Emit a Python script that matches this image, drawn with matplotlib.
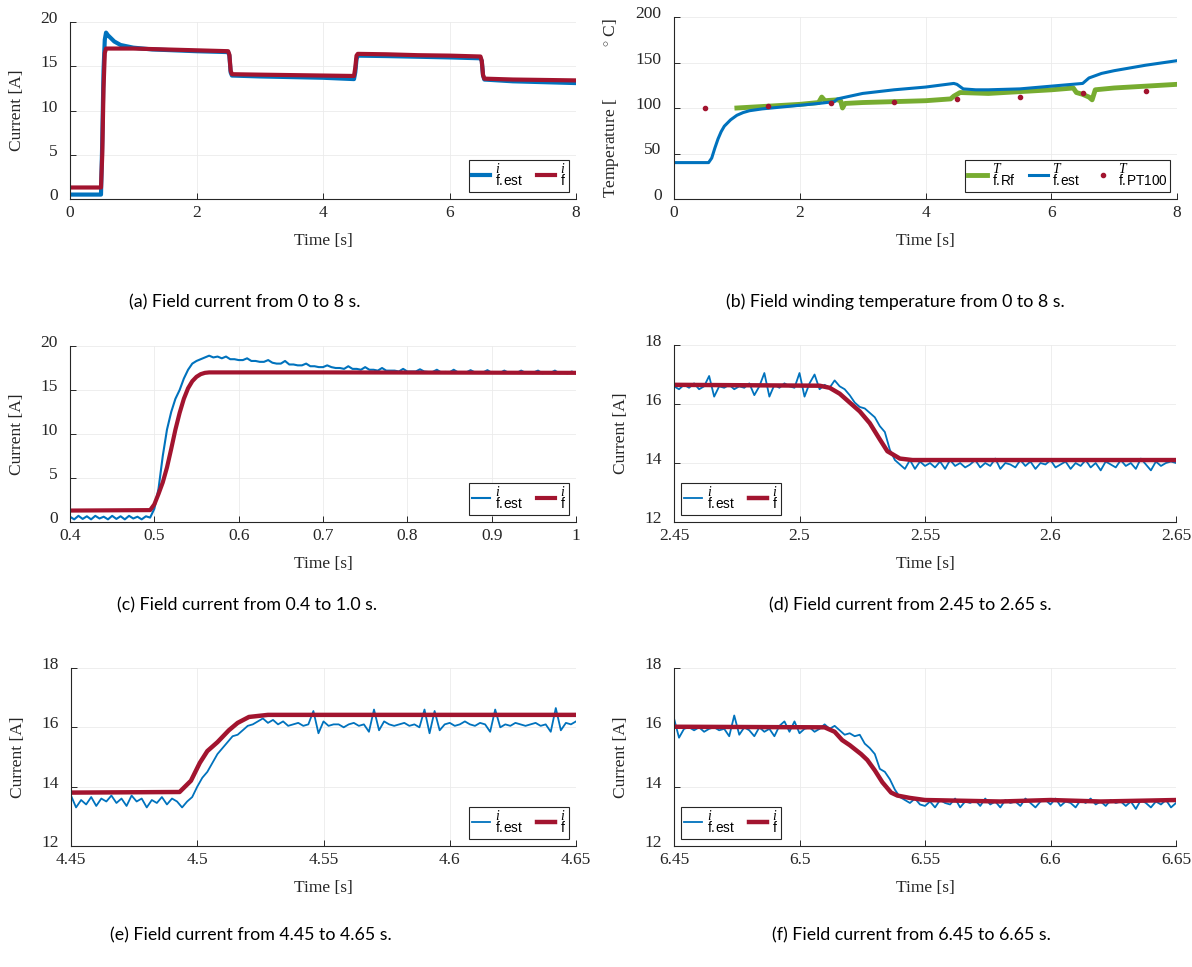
import numpy as np
import matplotlib
matplotlib.use('Agg')
import matplotlib.pyplot as plt
import matplotlib.transforms as mtransforms

# colours (MATLAB default palette)
BLUE = '#0072BD'
RED = '#A2142F'
GREEN = '#77AC30'
DARK = '#262626'

# ---------------- (a) field current 0..8 s ----------------
t_a_est = [0, 0.49, 0.51, 0.53, 0.55, 0.57, 0.6, 0.7, 0.8, 1.0, 1.3, 2.0, 2.5,
           2.52, 2.54, 2.56, 3.0, 4.0, 4.49, 4.51, 4.53, 4.55, 5.0, 6.0, 6.49,
           6.51, 6.53, 6.55, 7.0, 8.0]
i_a_est = [0.5, 0.5, 6.5, 14.5, 18.0, 18.8, 18.5, 17.8, 17.4, 17.1, 16.9, 16.7, 16.6,
           16.2, 14.3, 13.95, 13.85, 13.7, 13.55, 14.3, 15.8, 16.2, 16.15, 16.0, 15.9,
           15.6, 14.0, 13.5, 13.3, 13.1]
t_a_f = [0, 0.49, 0.51, 0.53, 0.55, 0.57, 1.0, 1.5, 2.0, 2.5, 2.52, 2.54, 2.56,
         3.0, 3.5, 4.0, 4.49, 4.51, 4.53, 4.55, 5.0, 5.5, 6.0, 6.49, 6.51, 6.53,
         6.55, 7.0, 7.5, 8.0]
i_a_f = [1.3, 1.3, 5.0, 12.5, 16.5, 17.0, 17.0, 16.9, 16.8, 16.7, 16.3, 14.5, 14.1,
         14.05, 14.0, 13.95, 13.9, 14.8, 16.2, 16.4, 16.35, 16.25, 16.2, 16.1, 15.6, 14.0,
         13.6, 13.5, 13.45, 13.4]

# ---------------- (b) temperature 0..8 s ----------------
t_b_est = [0, 0.55, 0.6, 0.65, 0.7, 0.75, 0.8, 0.9, 1.0, 1.1, 1.2, 1.4, 1.7, 2.0, 2.3,
           2.55, 2.6, 2.8, 3.0, 3.5, 4.0, 4.45, 4.5, 4.6, 4.8, 5.0, 5.5, 6.0, 6.5,
           6.6, 6.8, 7.0, 7.5, 8.0]
T_b_est = [40, 40, 45, 56, 66, 74, 80, 87, 92, 95, 97, 99, 101, 103, 105,
           107, 110, 113, 116, 120, 123, 127, 126, 121, 120, 120, 121, 124, 127,
           133, 138, 141, 147, 152]
t_b_rf = [1.0, 1.5, 2.0, 2.3, 2.35, 2.4, 2.6, 2.65, 2.68, 2.72, 3.0, 3.5, 4.0, 4.4,
          4.45, 4.55, 5.0, 5.5, 6.0, 6.35, 6.4, 6.5, 6.6, 6.65, 6.7, 7.0, 7.5, 8.0]
T_b_rf = [100, 102, 104, 106, 112, 108, 109, 108, 100, 105, 106, 107, 108, 110,
          113, 117, 116, 118, 120, 122, 117, 115, 112, 109, 120, 122, 124, 126]
t_b_pt = [0.5, 1.5, 2.5, 3.5, 4.5, 5.5, 6.5, 7.5]
T_b_pt = [100, 102, 105, 107, 110, 112, 116, 119]

# ---------------- (c) 0.4..1.0 s ----------------
t_c_f = [0.4, 0.495, 0.5, 0.505, 0.51, 0.515, 0.52, 0.525, 0.53, 0.535, 0.54,
         0.545, 0.55, 0.555, 0.56, 0.565, 0.57, 0.7, 1.0]
i_c_f = [1.3, 1.35, 2.0, 3.2, 4.5, 6.2, 8.3, 10.5, 12.4, 14.0, 15.2,
         16.0, 16.5, 16.8, 16.95, 17.0, 17.0, 17.0, 16.95]
# sampled every 5 ms
i_c_est = [0.6, 0.3, 0.7, 0.35, 0.65, 0.3, 0.7, 0.4, 0.6, 0.3,
           0.7, 0.35, 0.65, 0.3, 0.7, 0.4, 0.6, 0.3, 0.65, 0.5,
           1.5, 3.8, 7.5, 10.5, 12.5, 14.0, 15.0, 16.3, 17.3, 18.0,
           18.3, 18.5, 18.7, 18.9, 18.7, 18.8, 18.6, 18.8, 18.5, 18.5,
           18.4, 18.4, 18.6, 18.3, 18.3, 18.2, 18.2, 18.4, 18.1, 18.0,
           18.0, 18.3, 17.9, 17.9, 17.8, 17.8, 18.0, 17.7, 17.7, 17.6,
           17.6, 17.8, 17.6, 17.5, 17.5, 17.4, 17.7, 17.4, 17.4, 17.3,
           17.6, 17.3, 17.3, 17.2, 17.5, 17.2, 17.2, 17.2, 17.1, 17.4,
           17.1, 17.1, 17.1, 17.35, 17.1, 17.05, 17.05, 17.3, 17.0, 17.05,
           17.0, 17.3, 17.0, 17.0, 17.0, 17.25, 17.0, 16.95, 17.0, 17.25,
           16.95, 17.0, 16.95, 17.2, 16.95, 17.0, 16.95, 17.2, 16.95, 16.95,
           17.0, 17.2, 16.9, 17.0, 16.95, 17.2, 16.9, 17.0, 16.9, 17.1,
           16.9]
t_c_est = np.linspace(0.4, 1.0, len(i_c_est))

# ---------------- (d) 2.45..2.65 s ----------------
t_d_f = [2.45, 2.508, 2.512, 2.516, 2.52, 2.524, 2.528, 2.532, 2.535, 2.54, 2.545, 2.65]
i_d_f = [16.65, 16.62, 16.55, 16.35, 16.05, 15.75, 15.35, 14.8, 14.4, 14.15, 14.1, 14.1]
# sampled every 2 ms
i_d_est = [16.6, 16.5, 16.65, 16.55, 16.7, 16.5, 16.6, 16.95, 16.25, 16.6,
           16.55, 16.65, 16.5, 16.6, 16.55, 16.7, 16.3, 16.6, 17.05, 16.25,
           16.65, 16.55, 16.7, 16.6, 16.55, 17.05, 16.25, 16.7, 17.0, 16.5,
           16.65, 16.55, 16.8, 16.6, 16.5, 16.3, 16.05, 15.9, 15.85, 15.7,
           15.55, 15.25, 15.05, 14.45, 14.1, 13.95, 13.8, 14.1, 13.8, 14.05,
           13.9, 14.0, 13.85, 14.05, 13.8, 14.1, 13.9, 14.0, 13.85, 13.95,
           14.1, 13.85, 14.0, 13.9, 14.15, 13.8, 14.0, 13.95, 13.85, 14.1,
           13.9, 14.05, 13.8, 14.0, 13.95, 14.1, 13.85, 13.95, 14.05, 13.8,
           14.0, 13.9, 14.1, 13.85, 14.0, 13.75, 14.05, 13.95, 13.85, 14.1,
           13.9, 14.0, 13.8, 14.15, 13.95, 13.75, 14.05, 13.9, 14.0, 14.05,
           14.0]
t_d_est = np.linspace(2.45, 2.65, len(i_d_est))

# ---------------- (e) 4.45..4.65 s ----------------
t_e_f = [4.45, 4.493, 4.4975, 4.501, 4.504, 4.508, 4.5125, 4.516, 4.5205, 4.528, 4.65]
i_e_f = [13.8, 13.82, 14.2, 14.8, 15.2, 15.5, 15.9, 16.15, 16.35, 16.42, 16.42]
i_e_est = [13.7, 13.3, 13.55, 13.4, 13.65, 13.35, 13.6, 13.5, 13.7, 13.45,
           13.6, 13.35, 13.7, 13.5, 13.6, 13.3, 13.55, 13.45, 13.65, 13.4,
           13.6, 13.5, 13.3, 13.5, 13.65, 14.0, 14.3, 14.5, 14.8, 15.1,
           15.3, 15.5, 15.7, 15.75, 15.9, 16.05, 16.1, 16.2, 16.3, 16.15,
           16.25, 16.1, 16.2, 16.05, 16.1, 16.15, 16.05, 16.1, 16.55, 15.8,
           16.2, 16.05, 16.1, 16.1, 16.0, 16.1, 16.15, 16.05, 16.1, 15.85,
           16.6, 15.9, 16.2, 16.1, 16.05, 16.1, 16.15, 16.05, 16.1, 16.0,
           16.6, 15.8, 16.55, 15.9, 16.1, 16.15, 16.05, 16.1, 16.2, 16.1,
           16.05, 16.15, 16.1, 15.85, 16.6, 16.0, 16.1, 16.05, 16.15, 16.1,
           16.05, 16.1, 16.15, 16.05, 16.1, 15.85, 16.65, 15.9, 16.15, 16.1,
           16.2]
t_e_est = np.linspace(4.45, 4.65, len(i_e_est))

# ---------------- (f) 6.45..6.65 s ----------------
t_f_f = [6.45, 6.51, 6.514, 6.517, 6.52, 6.5245, 6.527, 6.53, 6.533, 6.5365, 6.539,
         6.544, 6.55, 6.58, 6.6, 6.62, 6.65]
i_f_f = [16.02, 16.0, 15.85, 15.57, 15.4, 15.1, 14.9, 14.55, 14.15, 13.8, 13.7,
         13.62, 13.55, 13.5, 13.55, 13.5, 13.55]
i_f_est = [16.3, 15.65, 15.95, 16.0, 15.9, 16.0, 15.85, 15.95, 16.0, 15.9,
           15.95, 15.7, 16.4, 15.75, 16.0, 15.9, 15.7, 16.0, 15.85, 15.95,
           15.7, 16.05, 16.2, 15.85, 16.2, 15.8, 15.95, 16.0, 15.85, 15.95,
           16.1, 15.95, 16.05, 15.9, 15.75, 15.8, 15.7, 15.75, 15.45, 15.3,
           15.1, 14.6, 14.5, 14.25, 13.9, 13.65, 13.55, 13.45, 13.6, 13.4,
           13.35, 13.5, 13.3, 13.55, 13.45, 13.4, 13.6, 13.3, 13.5, 13.45,
           13.55, 13.35, 13.6, 13.4, 13.5, 13.3, 13.55, 13.45, 13.5, 13.35,
           13.6, 13.45, 13.3, 13.5, 13.55, 13.4, 13.6, 13.35, 13.5, 13.45,
           13.3, 13.55, 13.45, 13.6, 13.4, 13.5, 13.35, 13.55, 13.45, 13.5,
           13.35, 13.5, 13.25, 13.55, 13.45, 13.3, 13.5, 13.4, 13.55, 13.3,
           13.45]
t_f_est = np.linspace(6.45, 6.65, len(i_f_est))

captions = ['(a) Field current from 0 to 8 s.',
            '(b) Field winding temperature from 0 to 8 s.',
            '(c) Field current from 0.4 to 1.0 s.',
            '(d) Field current from 2.45 to 2.65 s.',
            '(e) Field current from 4.45 to 4.65 s.',
            '(f) Field current from 6.45 to 6.65 s.']

plt.rcParams['font.family'] = 'Liberation Serif'
plt.rcParams['font.size'] = 12.5
plt.rcParams['mathtext.fontset'] = 'custom'
plt.rcParams['mathtext.it'] = 'Liberation Serif:italic'
plt.rcParams['mathtext.rm'] = 'Liberation Sans'

lbl_est = r'${}^{i}_{\mathrm{f.\!est}}$'
lbl_f = r'${}^{i}_{\mathrm{f}}$'

fig = plt.figure(figsize=(11.92, 9.67), dpi=100)
W, H = 1192, 967
# y tick labels sit a little above their ticks in the original
lift = mtransforms.ScaledTranslation(0, 0.05, fig.dpi_scale_trans)


def make_ax(l, t, r, b):
    ax = fig.add_axes([l / W, 1 - b / H, (r - l) / W, (b - t) / H])
    for s in ['top', 'right']:
        ax.spines[s].set_visible(False)
    for s in ['left', 'bottom']:
        ax.spines[s].set_color(DARK)
        ax.spines[s].set_linewidth(0.8)
    ax.tick_params(direction='in', colors=DARK, labelsize=12.5, length=4, width=0.7)
    ax.tick_params(axis='y', pad=9)
    ax.tick_params(axis='x', pad=4)
    ax.grid(True, color='#ebebeb', lw=0.6)
    ax.set_axisbelow(True)
    ax.set_xlabel('Time [s]', color=DARK, fontsize=12.5, labelpad=9)
    return ax


def finish(ax):
    for lab in ax.get_yticklabels():
        lab.set_transform(lab.get_transform() + lift)


def legend(ax, loc):
    leg = ax.legend(loc=loc, ncol=3, fontsize=14, frameon=True, fancybox=False,
                    edgecolor=DARK, framealpha=1, handlelength=0.95, handletextpad=0.25,
                    columnspacing=0.7, borderpad=0.15, borderaxespad=0.35)
    leg.get_frame().set_linewidth(0.8)
    return leg


# (a)
ax = make_ax(70, 22, 576, 199)
ax.plot(t_a_est, i_a_est, color=BLUE, lw=3, label=lbl_est)
ax.plot(t_a_f, i_a_f, color=RED, lw=3, label=lbl_f)
ax.set_xlim(0, 8)
ax.set_ylim(0, 20)
ax.set_xticks([0, 2, 4, 6, 8])
ax.set_yticks([0, 5, 10, 15, 20])
ax.set_ylabel('Current [A]', color=DARK, labelpad=11)
legend(ax, 'lower right')
finish(ax)

# (b)
ax = make_ax(674, 17, 1177, 199)
ax.plot(t_b_rf, T_b_rf, color=GREEN, lw=3.5, label=r'${}^{T}_{\mathrm{f.\!Rf}}$')
ax.plot(t_b_est, T_b_est, color=BLUE, lw=2.2, label=r'${}^{T}_{\mathrm{f.\!est}}$')
ax.plot(t_b_pt, T_b_pt, 'o', color=RED, ms=3, label=r'${}^{T}_{\mathrm{f.\!PT100}}$')
ax.set_xlim(0, 8)
ax.set_ylim(0, 200)
ax.set_xticks([0, 2, 4, 6, 8])
ax.set_yticks([0, 50, 100, 150, 200])
ax.set_ylabel(r'Temperature [            $^{\circ}$ C]', color=DARK)
ax.yaxis.set_label_coords(-0.105, 0.5)
legend(ax, 'lower right')
finish(ax)

# (c)
ax = make_ax(70, 346, 576, 522)
ax.plot(t_c_est, i_c_est, color=BLUE, lw=1.5, label=lbl_est)
ax.plot(t_c_f, i_c_f, color=RED, lw=3, label=lbl_f)
ax.set_xlim(0.4, 1.0)
ax.set_ylim(0, 20)
ax.set_xticks([0.4, 0.5, 0.6, 0.7, 0.8, 0.9, 1.0])
ax.set_xticklabels(['0.4', '0.5', '0.6', '0.7', '0.8', '0.9', '1'])
ax.set_yticks([0, 5, 10, 15, 20])
ax.set_ylabel('Current [A]', color=DARK, labelpad=11)
legend(ax, 'lower right')
finish(ax)

zoom_panels = [
    ((674, 345, 1176, 522), t_d_est, i_d_est, t_d_f, i_d_f, (2.45, 2.65),
     ['2.45', '2.5', '2.55', '2.6', '2.65'], 'lower left'),
    ((71, 668, 576, 846), t_e_est, i_e_est, t_e_f, i_e_f, (4.45, 4.65),
     ['4.45', '4.5', '4.55', '4.6', '4.65'], 'lower right'),
    ((674, 668, 1176, 846), t_f_est, i_f_est, t_f_f, i_f_f, (6.45, 6.65),
     ['6.45', '6.5', '6.55', '6.6', '6.65'], 'lower left'),
]
for box, te, ie, tf, i_f, xl, xtl, loc in zoom_panels:
    ax = make_ax(*box)
    ax.plot(te, ie, color=BLUE, lw=1.3, label=lbl_est)
    ax.plot(tf, i_f, color=RED, lw=3.2, label=lbl_f)
    ax.set_xlim(*xl)
    ax.set_ylim(12, 18)
    ax.set_xticks(np.linspace(xl[0], xl[1], 5))
    ax.set_xticklabels(xtl)
    ax.set_yticks([12, 14, 16, 18])
    ax.set_ylabel('Current [A]', color=DARK, labelpad=11)
    legend(ax, loc)
    finish(ax)

# captions
cap_pos = [(245, 302), (895, 302), (247, 605), (910, 605), (251, 935), (911, 935)]
for txt, (cx, cy) in zip(captions, cap_pos):
    fig.text(cx / W, 1 - cy / H, txt, ha='center', va='center',
             fontsize=12.8, family='Lato', color='black')

fig.savefig('out.png', dpi=100)
